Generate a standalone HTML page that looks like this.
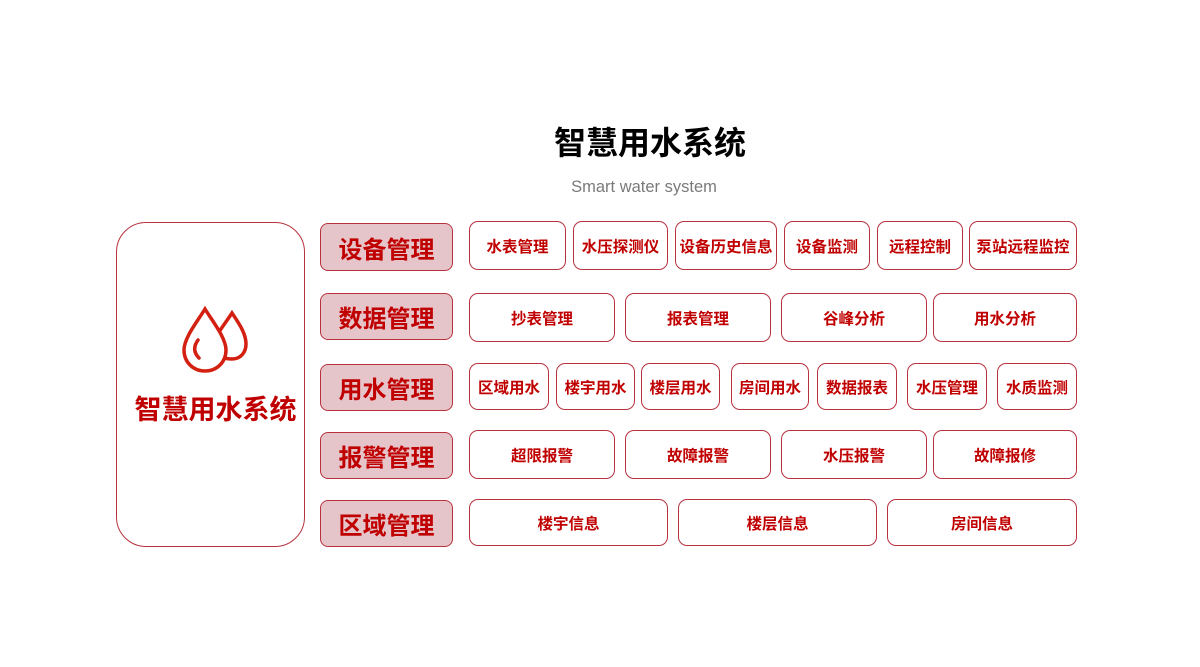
<!DOCTYPE html>
<html><head><meta charset="utf-8"><style>
body{margin:0;width:1200px;height:667px;background:#fff;position:relative;overflow:hidden;font-family:"Liberation Sans","Noto Sans CJK SC",sans-serif}
.a{position:absolute;box-sizing:border-box;display:flex;align-items:center;justify-content:center;white-space:nowrap}
.c{background:#e5c5ca;border:1.5px solid #b8323e;border-radius:8px;color:#c00000;font-weight:bold;font-size:24px}
.i{background:#fff;border:1.5px solid #b8323e;border-radius:9px;color:#c00000;font-weight:bold;font-size:15.5px}
</style></head><body>
<div class="a" style="left:450px;top:119px;width:400px;height:44px;font-size:32px;font-weight:bold;color:#000">智慧用水系统</div>
<div class="a" style="left:500px;top:176px;width:288px;height:22px;font-size:16.5px;color:#7a7a7a">Smart water system</div>
<div class="a" style="left:116px;top:222px;width:189px;height:325px;border:1.5px solid #b8323e;border-radius:30px"></div>
<svg style="position:absolute;left:0;top:0" width="1200" height="667">
<path d="M232 313 C225 324 214 336 214 346 C214 353 220 359 232 359 C241 359 246 352 246 344 C246 333 238 322 232 313 Z" fill="#fff" stroke="#d42010" stroke-width="3.5"/>
<path d="M205 309 C197 322 184 338 184 350 C184 362 193 371 205 371 C217 371 226 362 226 350 C226 338 213 322 205 309 Z" fill="#fff" stroke="#d42010" stroke-width="3.5"/>
<path d="M198 340 C193 347 194 353 199 358" fill="none" stroke="#d42010" stroke-width="3.5" stroke-linecap="round"/>
</svg>
<div class="a" style="left:116px;top:388px;width:199px;height:38px;font-size:27px;font-weight:bold;color:#c00000">智慧用水系统</div>

<div class="a c" style="left:320px;top:223px;width:133px;height:48px">设备管理</div>
<div class="a c" style="left:320px;top:293px;width:133px;height:47px">数据管理</div>
<div class="a c" style="left:320px;top:364px;width:133px;height:47px">用水管理</div>
<div class="a c" style="left:320px;top:432px;width:133px;height:47px">报警管理</div>
<div class="a c" style="left:320px;top:500px;width:133px;height:47px">区域管理</div>

<div class="a i" style="left:469px;top:221px;width:97px;height:49px">水表管理</div>
<div class="a i" style="left:573px;top:221px;width:95px;height:49px">水压探测仪</div>
<div class="a i" style="left:675px;top:221px;width:102px;height:49px">设备历史信息</div>
<div class="a i" style="left:784px;top:221px;width:86px;height:49px">设备监测</div>
<div class="a i" style="left:877px;top:221px;width:86px;height:49px">远程控制</div>
<div class="a i" style="left:969px;top:221px;width:108px;height:49px">泵站远程监控</div>

<div class="a i" style="left:469px;top:293px;width:146px;height:49px">抄表管理</div>
<div class="a i" style="left:625px;top:293px;width:146px;height:49px">报表管理</div>
<div class="a i" style="left:781px;top:293px;width:146px;height:49px">谷峰分析</div>
<div class="a i" style="left:933px;top:293px;width:144px;height:49px">用水分析</div>

<div class="a i" style="left:469px;top:363px;width:80px;height:47px">区域用水</div>
<div class="a i" style="left:556px;top:363px;width:79px;height:47px">楼宇用水</div>
<div class="a i" style="left:641px;top:363px;width:79px;height:47px">楼层用水</div>
<div class="a i" style="left:731px;top:363px;width:78px;height:47px">房间用水</div>
<div class="a i" style="left:817px;top:363px;width:80px;height:47px">数据报表</div>
<div class="a i" style="left:907px;top:363px;width:80px;height:47px">水压管理</div>
<div class="a i" style="left:997px;top:363px;width:80px;height:47px">水质监测</div>

<div class="a i" style="left:469px;top:430px;width:146px;height:49px">超限报警</div>
<div class="a i" style="left:625px;top:430px;width:146px;height:49px">故障报警</div>
<div class="a i" style="left:781px;top:430px;width:146px;height:49px">水压报警</div>
<div class="a i" style="left:933px;top:430px;width:144px;height:49px">故障报修</div>

<div class="a i" style="left:469px;top:499px;width:199px;height:47px">楼宇信息</div>
<div class="a i" style="left:678px;top:499px;width:199px;height:47px">楼层信息</div>
<div class="a i" style="left:887px;top:499px;width:190px;height:47px">房间信息</div>
</body></html>
